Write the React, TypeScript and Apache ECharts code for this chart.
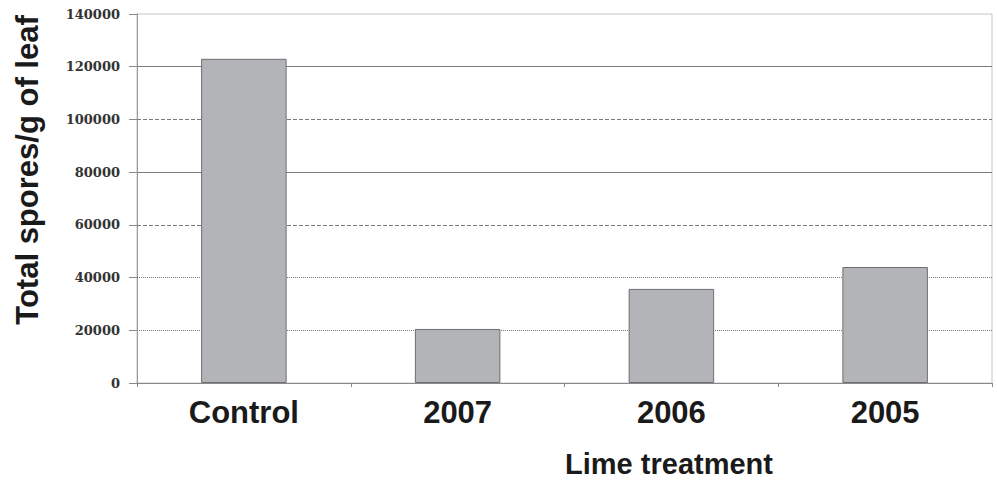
import React, { useEffect, useRef } from "react";
import * as echarts from "echarts";

const categories = ["Control", "2007", "2006", "2005"];
const sporeValues = [123000, 20500, 35700, 44000];
const yTicks = [0, 20000, 40000, 60000, 80000, 100000, 120000, 140000];
const gridLineValues = [20000, 40000, 60000, 80000, 100000, 120000];
const gridLineTypes = ["dotted", "dotted", "dashed", "solid", "dashed", "solid"];
const yAxisTitle = "Total spores/g of leaf";
const xAxisTitle = "Lime treatment";

export default function App() {
  const ref = useRef<HTMLDivElement>(null);
  useEffect(() => {
    if (!ref.current) return;
    const chart = echarts.init(ref.current, null, { renderer: "svg" });
    chart.setOption({
      animation: false,
      backgroundColor: "#ffffff",
      grid: {
        left: 137,
        right: 5,
        top: 14,
        bottom: 99,
        show: true,
        borderColor: "#c4c4c4",
        borderWidth: 1,
      },
      xAxis: {
        type: "category",
        data: categories,
        axisLine: { show: true, lineStyle: { color: "#8a8a8a", width: 1 } },
        axisTick: { show: true, length: 4, lineStyle: { color: "#8a8a8a" } },
        axisLabel: {
          margin: 14,
          color: "#1a1a1a",
          fontFamily: "Liberation Sans, Arial, sans-serif",
          fontWeight: "bold",
          fontSize: 31,
        },
        splitLine: { show: false },
      },
      yAxis: {
        type: "value",
        min: yTicks[0],
        max: yTicks[yTicks.length - 1],
        interval: 20000,
        axisLine: { show: true, lineStyle: { color: "#8a8a8a", type: "dotted", width: 1 } },
        axisTick: { show: true, length: 8, lineStyle: { color: "#8a8a8a" } },
        axisLabel: {
          margin: 17,
          color: "#333333",
          fontFamily: "DejaVu Serif, serif",
          fontWeight: "bold",
          fontSize: 13,
          formatter: (v: number) => String(v),
        },
        splitLine: { show: false },
      },
      graphic: [
        {
          type: "text",
          x: 27,
          y: 170,
          rotation: Math.PI / 2,
          style: {
            text: yAxisTitle,
            fill: "#1a1a1a",
            font: "bold 31px 'Liberation Sans', Arial, sans-serif",
            textAlign: "center",
            textVerticalAlign: "middle",
          },
        },
        {
          type: "text",
          x: 669,
          y: 464,
          style: {
            text: xAxisTitle,
            fill: "#1a1a1a",
            font: "bold 29px 'Liberation Sans', Arial, sans-serif",
            textAlign: "center",
            textVerticalAlign: "middle",
          },
        },
      ],
      series: [
        {
          type: "bar",
          data: sporeValues,
          barWidth: "40%",
          itemStyle: { color: "#b3b4b7", borderColor: "#6e6e6e", borderWidth: 1 },
          markLine: {
            silent: true,
            symbol: ["none", "none"],
            label: { show: false },
            z: 0,
            data: gridLineValues.map((v, i) => ({
              yAxis: v,
              lineStyle: { color: "#7a7a7a", width: 1, type: gridLineTypes[i] },
            })),
          },
          z: 2,
        },
      ],
    });
    return () => chart.dispose();
  }, []);
  return (
    <div
      ref={ref}
      style={{ position: "absolute", left: 0, top: 0, width: 997, height: 482 }}
    />
  );
}
